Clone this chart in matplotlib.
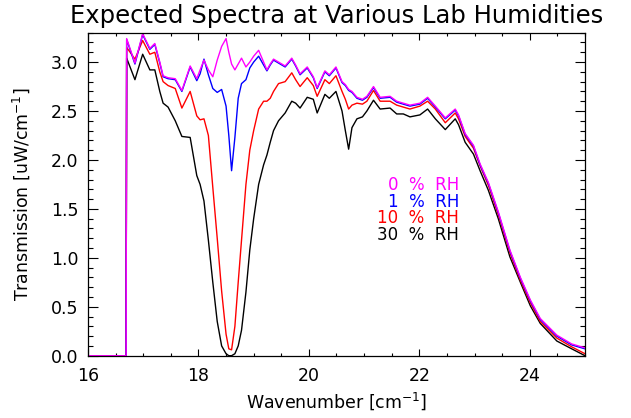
import numpy as np
import matplotlib
matplotlib.use('Agg')
import matplotlib.pyplot as plt
from matplotlib.ticker import MultipleLocator

# wavenumber grid [cm^-1]
wavenumber = [16.00, 16.69, 16.70, 16.85, 16.99, 17.12, 17.21, 17.30, 17.36, 17.45,
              17.58, 17.70, 17.85, 17.97, 18.03, 18.10, 18.18, 18.26, 18.34, 18.42,
              18.50, 18.55, 18.60, 18.66, 18.72, 18.78, 18.86, 18.93, 19.00, 19.09,
              19.18, 19.24, 19.30, 19.36, 19.45, 19.57, 19.69, 19.76, 19.84, 19.97,
              20.08, 20.15, 20.29, 20.37, 20.49, 20.60, 20.66, 20.72, 20.78, 20.87,
              20.97, 21.05, 21.17, 21.29, 21.47, 21.59, 21.71, 21.83, 22.01, 22.15,
              22.29, 22.47, 22.65, 22.71, 22.83, 22.98, 23.10, 23.25, 23.43, 23.64,
              23.83, 24.01, 24.19, 24.49, 24.76, 25.00]

# transmission [uW/cm^-1] for each lab humidity
rh0 = [0.00, 0.00, 3.24, 2.99, 3.29, 3.14, 3.19, 3.00, 2.86, 2.84,
       2.83, 2.71, 2.96, 2.83, 2.92, 3.02, 2.92, 2.85, 3.02, 3.16,
       3.24, 3.10, 2.98, 2.92, 2.98, 3.04, 2.95, 3.00, 3.06, 3.12,
       3.00, 2.92, 2.98, 3.03, 3.00, 2.96, 3.04, 2.97, 2.88, 2.95,
       2.85, 2.74, 2.91, 2.87, 2.95, 2.80, 2.77, 2.72, 2.70, 2.64,
       2.62, 2.65, 2.75, 2.64, 2.65, 2.60, 2.58, 2.56, 2.58, 2.64,
       2.55, 2.43, 2.52, 2.46, 2.27, 2.15, 1.96, 1.77, 1.47, 1.08,
       0.80, 0.57, 0.38, 0.21, 0.12, 0.08]

rh1 = [0.00, 0.00, 3.23, 2.98, 3.28, 3.13, 3.18, 2.99, 2.85, 2.83,
       2.82, 2.70, 2.95, 2.81, 2.88, 3.03, 2.87, 2.73, 2.69, 2.72,
       2.55, 2.25, 1.89, 2.23, 2.63, 2.78, 2.82, 2.94, 3.00, 3.06,
       2.97, 2.91, 2.97, 3.02, 2.99, 2.95, 3.03, 2.96, 2.87, 2.94,
       2.84, 2.73, 2.90, 2.86, 2.94, 2.79, 2.76, 2.71, 2.69, 2.63,
       2.61, 2.64, 2.74, 2.63, 2.64, 2.59, 2.57, 2.55, 2.57, 2.63,
       2.54, 2.42, 2.51, 2.45, 2.26, 2.14, 1.95, 1.76, 1.46, 1.07,
       0.79, 0.56, 0.37, 0.20, 0.11, 0.07]

rh10 = [0.00, 0.00, 3.15, 3.03, 3.22, 3.08, 3.10, 2.90, 2.80, 2.76,
        2.73, 2.53, 2.70, 2.45, 2.41, 2.42, 2.25, 1.72, 1.20, 0.66,
        0.22, 0.07, 0.06, 0.30, 0.75, 1.18, 1.75, 2.10, 2.30, 2.52,
        2.60, 2.60, 2.63, 2.70, 2.78, 2.80, 2.89, 2.82, 2.75, 2.84,
        2.76, 2.65, 2.82, 2.78, 2.86, 2.70, 2.62, 2.52, 2.56, 2.58,
        2.57, 2.60, 2.71, 2.60, 2.60, 2.56, 2.54, 2.52, 2.55, 2.60,
        2.52, 2.38, 2.48, 2.42, 2.24, 2.12, 1.94, 1.74, 1.44, 1.05,
        0.77, 0.54, 0.35, 0.18, 0.09, 0.02]

rh30 = [0.00, 0.00, 3.04, 2.82, 3.08, 2.92, 2.92, 2.70, 2.58, 2.54,
        2.40, 2.24, 2.23, 1.84, 1.75, 1.58, 1.18, 0.75, 0.35, 0.10,
        0.02, 0.00, 0.00, 0.02, 0.10, 0.26, 0.65, 1.08, 1.40, 1.75,
        1.95, 2.05, 2.18, 2.30, 2.40, 2.48, 2.60, 2.58, 2.53, 2.64,
        2.62, 2.48, 2.67, 2.63, 2.70, 2.50, 2.30, 2.11, 2.33, 2.42,
        2.44, 2.50, 2.61, 2.52, 2.53, 2.47, 2.47, 2.44, 2.46, 2.52,
        2.42, 2.31, 2.42, 2.36, 2.18, 2.06, 1.89, 1.69, 1.40, 1.01,
        0.75, 0.51, 0.33, 0.15, 0.07, 0.00]

humidities = [0, 1, 10, 30]
colors = ['magenta', 'blue', 'red', 'black']

plt.rcParams['mathtext.default'] = 'regular'

fig = plt.figure(figsize=(6.31, 4.18), dpi=100)
ax = fig.add_axes([88/631, 1 - 355.7/418, 497/631, 323/418])

# draw 30 % first so the dry curve ends up on top
for series, c in zip([rh30, rh10, rh1, rh0], ['black', 'red', 'blue', 'magenta']):
    ax.plot(wavenumber, series, color=c, lw=1.0)

ax.set_xlim(16, 25)
ax.set_ylim(0, 3.3)
ax.xaxis.set_major_locator(MultipleLocator(2))
ax.xaxis.set_minor_locator(MultipleLocator(0.5))
ax.yaxis.set_major_locator(MultipleLocator(0.5))
ax.yaxis.set_minor_locator(MultipleLocator(0.1))
ax.yaxis.set_major_formatter(plt.FormatStrFormatter('%.1f'))

ax.tick_params(which='both', direction='in', top=True, right=True, width=0.8,
               labelsize=12.5, color='black')
ax.tick_params(axis='x', which='major', length=4.7, pad=8)
ax.tick_params(axis='x', which='minor', length=2.3)
ax.tick_params(axis='y', which='major', length=7.2, pad=7)
ax.tick_params(axis='y', which='minor', length=3.6)
for s in ax.spines.values():
    s.set_linewidth(0.9)

ax.set_xlabel('Wavenumber [cm$^{-1}$]', fontsize=12.5)
ax.xaxis.set_label_coords(0.5, -0.108)
ax.set_ylabel('Transmission [uW/cm$^{-1}$]', fontsize=12.5)
ax.yaxis.set_label_coords(-0.112, 0.5)

ax.text(0.5, 1.052, 'Expected Spectra at Various Lab Humidities', transform=ax.transAxes,
        ha='center', va='center', fontsize=17.5)

# humidity labels, right aligned
ys = [1.745, 1.57, 1.405, 1.23]
for h, c, yy in zip(humidities, colors, ys):
    ax.text(22.72, yy, '%d  %%  RH' % h, color=c, ha='right', va='center', fontsize=12)

fig.savefig('out.png', dpi=100)
